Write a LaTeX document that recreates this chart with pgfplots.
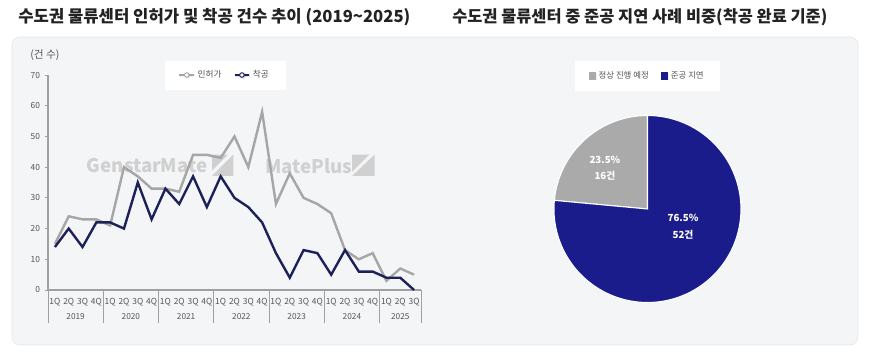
\documentclass[border=0pt]{standalone}
\usepackage{pgfplots}
\pgfplotsset{compat=1.18}
\usepackage{pgfplotstable}
\usepackage{fontspec}
\setmainfont{Noto Sans CJK KR}
\usetikzlibrary{shadows}

\definecolor{lnavy}{HTML}{1C2157}
\definecolor{lgray}{HTML}{A6A6A6}
\definecolor{pnavy}{HTML}{1A1C8C}
\definecolor{pgray}{HTML}{AAAAAA}
\definecolor{panel}{HTML}{F4F5F7}
\definecolor{panelb}{HTML}{E4E6EA}
\definecolor{axgray}{HTML}{A0A0A0}
\definecolor{txt}{HTML}{555555}
\definecolor{ttl}{HTML}{222222}
\definecolor{wm}{HTML}{D0D0D0}

\pgfplotstableread{
q permit start
0 15 14
1 24 20
2 23 14
3 23 22
4 21 22
5 40 20
6 37 35
7 33 23
8 33 33
9 32 28
10 44 37
11 44 27
12 43 37
13 50 30
14 40 27
15 58 22
16 28 12
17 38 4
18 30 13
19 28 12
20 25 5
21 13 13
22 10 6
23 12 6
24 3 4
25 7 4
26 5 0
}\linedata

\pgfplotstableread{
idx value
0 16
1 52
}\piedata

\begin{document}
\begin{tikzpicture}
\useasboundingbox (0pt,0pt) rectangle (657pt,-272.25pt);
\fill[panel, draw=panelb, rounded corners=6pt] (9pt,-27.75pt) rectangle (643.5pt,-258.75pt);

\node[anchor=west, text=ttl, font=\fontsize{12.5}{14}\selectfont\bfseries, inner sep=0pt] at (13.5pt,-12.75pt) {수도권 물류센터 인허가 및 착공 건수 추이 (2019\textasciitilde 2025)};
\node[anchor=west, text=ttl, font=\fontsize{12.3}{14}\selectfont\bfseries, inner sep=0pt] at (339pt,-12.75pt) {수도권 물류센터 중 준공 지연 사례 비중(착공 완료 기준)};

\node[anchor=west, text=txt, font=\fontsize{8}{9}\selectfont, inner sep=0pt] at (22.5pt,-41.25pt) {(건 수)};

% watermarks
\node[anchor=west, text=wm, font=\fontsize{14}{15}\selectfont\bfseries, inner sep=0pt] at (65pt,-124.5pt) {GenstarMate};
\fill[wm] (159pt,-132pt) -- (175pt,-132pt) -- (175pt,-116pt) -- cycle;
\fill[wm] (159pt,-116pt) -- (171pt,-116pt) -- (159pt,-128pt) -- cycle;
\node[anchor=west, text=wm, font=\fontsize{14}{15}\selectfont\bfseries, inner sep=0pt] at (198.75pt,-124.5pt) {MatePlus};
\fill[wm] (264pt,-132pt) -- (281pt,-132pt) -- (281pt,-116pt) -- cycle;
\fill[wm] (264pt,-116pt) -- (277pt,-116pt) -- (264pt,-129pt) -- cycle;

\begin{axis}[
  at={(36pt,-217.5pt)}, anchor=south west,
  scale only axis, width=279.75pt, height=161.25pt,
  xmin=-0.5, xmax=26.5, ymin=0, ymax=70,
  axis x line=bottom, axis y line=left,
  axis line style={axgray, line width=0.8pt, -},
  xtick={0,...,26},
  xticklabels={1Q,2Q,3Q,4Q,1Q,2Q,3Q,4Q,1Q,2Q,3Q,4Q,1Q,2Q,3Q,4Q,1Q,2Q,3Q,4Q,1Q,2Q,3Q,4Q,1Q,2Q,3Q},
  ytick={0,10,...,70},
  tick align=outside,
  major x tick style={draw=none},
  major y tick style={axgray, line width=0.6pt},
  major tick length=2.5pt,
  tick label style={font=\fontsize{6.3}{7}\selectfont, text=txt},
  x tick label style={yshift=-0.5pt},
  /pgf/number format/assume math mode=true,
  clip=false,
  legend style={at={(0.4745,1.0)}, anchor=center, legend columns=2,
    draw=white, fill=white, drop shadow={opacity=0.12, shadow xshift=0.5pt, shadow yshift=-0.5pt},
    font=\fontsize{6.5}{7}\selectfont, text=txt,
    inner xsep=10pt, inner ysep=5pt,
    /tikz/every even column/.append style={column sep=7pt}},
  legend image code/.code={
    \draw[#1, line width=1.4pt] (0pt,0pt) -- (11pt,0pt);
    \draw[#1, fill=white, line width=0.7pt] (5.5pt,0pt) circle (1.7pt);
  },
]
\addplot[lgray, line width=1.8pt] table[x=q, y=permit]{\linedata};
\addplot[lnavy, line width=1.8pt] table[x=q, y=start]{\linedata};
\legend{인허가, 착공}

\draw[axgray, line width=0.6pt] (axis cs:-0.5,0) -- ++(0pt,-24.75pt);
\draw[axgray, line width=0.6pt] (axis cs:3.5,0) -- ++(0pt,-24.75pt);
\draw[axgray, line width=0.6pt] (axis cs:7.5,0) -- ++(0pt,-24.75pt);
\draw[axgray, line width=0.6pt] (axis cs:11.5,0) -- ++(0pt,-24.75pt);
\draw[axgray, line width=0.6pt] (axis cs:15.5,0) -- ++(0pt,-24.75pt);
\draw[axgray, line width=0.6pt] (axis cs:19.5,0) -- ++(0pt,-24.75pt);
\draw[axgray, line width=0.6pt] (axis cs:23.5,0) -- ++(0pt,-24.75pt);
\draw[axgray, line width=0.6pt] (axis cs:26.5,0) -- ++(0pt,-24.75pt);
\node[font=\fontsize{6.2}{7}\selectfont, text=txt] at ([yshift=-20.25pt]axis cs:1.5,0) {2019};
\node[font=\fontsize{6.2}{7}\selectfont, text=txt] at ([yshift=-20.25pt]axis cs:5.5,0) {2020};
\node[font=\fontsize{6.2}{7}\selectfont, text=txt] at ([yshift=-20.25pt]axis cs:9.5,0) {2021};
\node[font=\fontsize{6.2}{7}\selectfont, text=txt] at ([yshift=-20.25pt]axis cs:13.5,0) {2022};
\node[font=\fontsize{6.2}{7}\selectfont, text=txt] at ([yshift=-20.25pt]axis cs:17.5,0) {2023};
\node[font=\fontsize{6.2}{7}\selectfont, text=txt] at ([yshift=-20.25pt]axis cs:21.5,0) {2024};
\node[font=\fontsize{6.2}{7}\selectfont, text=txt] at ([yshift=-20.25pt]axis cs:25,0) {2025};
\end{axis}

% pie
\pgfplotstablegetelem{0}{value}\of\piedata \let\va=\pgfplotsretval
\pgfplotstablegetelem{1}{value}\of\piedata \let\vb=\pgfplotsretval
\pgfmathsetmacro\ga{90+360*\va/(\va+\vb)}
\pgfmathsetmacro\gb{450}
\begin{axis}[
  at={(485.6pt,-156.75pt)}, anchor=center,
  scale only axis, width=140.25pt, height=140.25pt,
  hide axis, xmin=-1, xmax=1, ymin=-1, ymax=1, clip=false,
  legend style={at={(0.5,1.211)}, anchor=center, legend columns=2,
    draw=white, fill=white, drop shadow={opacity=0.12, shadow xshift=0.5pt, shadow yshift=-0.5pt},
    font=\fontsize{6.3}{7}\selectfont, text=txt,
    inner xsep=10pt, inner ysep=5.5pt,
    /tikz/every even column/.append style={column sep=7pt}},
  legend image code/.code={
    \fill[#1, draw=none] (0pt,-2.8pt) rectangle (5.6pt,2.8pt);
  },
]
\addplot[fill=pgray, draw=white, line width=0.8pt, domain=90:\ga, samples=60, variable=\t] ({cos(\t)},{sin(\t)}) -- (axis cs:0,0) -- cycle;
\addplot[fill=pnavy, draw=white, line width=0.8pt, domain=\ga:\gb, samples=120, variable=\t] ({cos(\t)},{sin(\t)}) -- (axis cs:0,0) -- cycle;
\legend{정상 진행 예정, 준공 지연}
\node[text=white, font=\fontsize{7.3}{8}\selectfont\bfseries] at (axis cs:-0.455,0.524) {23.5\%};
\node[text=white, font=\fontsize{7.3}{8}\selectfont\bfseries] at (axis cs:-0.455,0.353) {16건};
\node[text=white, font=\fontsize{7.3}{8}\selectfont\bfseries] at (axis cs:0.38,-0.096) {76.5\%};
\node[text=white, font=\fontsize{7.3}{8}\selectfont\bfseries] at (axis cs:0.38,-0.278) {52건};
\end{axis}
\end{tikzpicture}
\end{document}
